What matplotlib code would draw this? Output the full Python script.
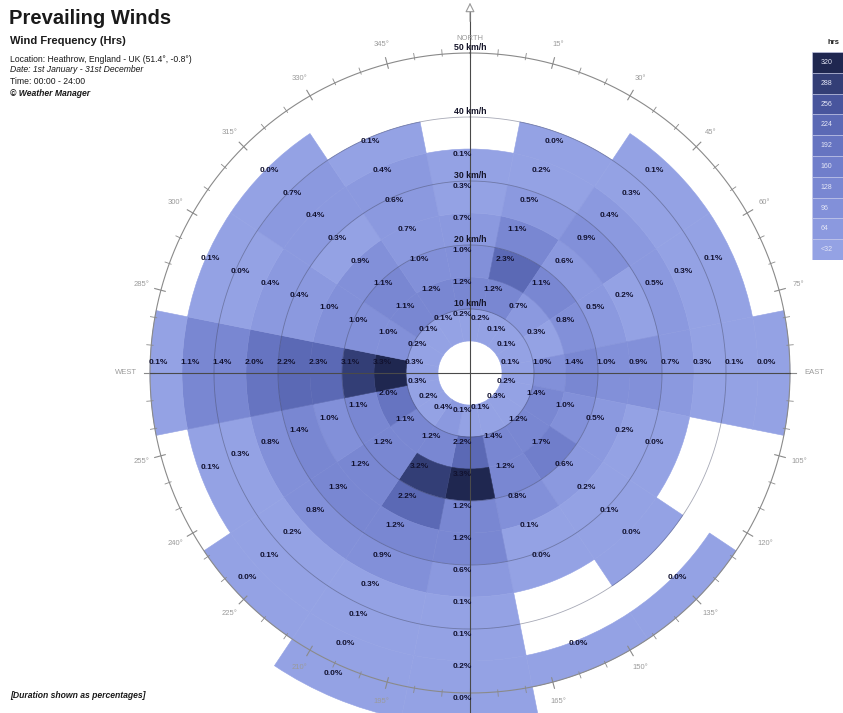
import numpy as np
import matplotlib
matplotlib.use("Agg")
import matplotlib.pyplot as plt

W_PX, H_PX = 843, 713
CX, CY = 470, 373          # pixel centre of the rose
PX_PER_KMH = 6.4
R_MAX = 60.0               # km/h at the edge of the polar axes

plt.rcParams["font.family"] = ["Liberation Sans", "DejaVu Sans"]

# speed bands: 5-10, 10-15, ... km/h (0-5 km/h is the empty centre)
band_start = 5
band_step = 5

directions = ["N", "NNE", "NE", "ENE", "E", "ESE", "SE", "SSE",
              "S", "SSW", "SW", "WSW", "W", "WNW", "NW", "NNW"]
bearings = [0.0, 22.5, 45.0, 67.5, 90.0, 112.5, 135.0, 157.5,
            180.0, 202.5, 225.0, 247.5, 270.0, 292.5, 315.0, 337.5]

# percentage of hours per speed band, None = no wind recorded in that band
pct_N = [0.2, 1.2, 1.0, 0.7, 0.3, 0.1]
pct_NNE = [0.2, 1.2, 2.3, 1.1, 0.5, 0.2, 0.0]
pct_NE = [0.1, 0.7, 1.1, 0.6, 0.9, 0.4, 0.3, 0.1]
pct_ENE = [0.1, 0.3, 0.8, 0.5, 0.2, 0.5, 0.3, 0.1]
pct_E = [0.1, 1.0, 1.4, 1.0, 0.9, 0.7, 0.3, 0.1, 0.0]
pct_ESE = [0.2, 1.4, 1.0, 0.5, 0.2, 0.0]
pct_SE = [0.3, 1.2, 1.7, 0.6, 0.2, 0.1, 0.0, None, 0.0]
pct_SSE = [0.1, 1.4, 1.2, 0.8, 0.1, 0.0, None, None, 0.0]
pct_S = [0.1, 2.2, 3.3, 1.2, 1.2, 0.6, 0.1, 0.1, 0.2, 0.0]
pct_SSW = [0.4, 1.2, 3.2, 2.2, 1.2, 0.9, 0.3, 0.1, 0.0, 0.0]
pct_SW = [0.2, 1.1, 1.2, 1.2, 1.3, 0.8, 0.2, 0.1, 0.0]
pct_WSW = [0.3, 2.0, 1.1, 1.0, 1.4, 0.8, 0.3, 0.1]
pct_W = [0.3, 3.3, 3.1, 2.3, 2.2, 2.0, 1.4, 1.1, 0.1]
pct_WNW = [0.2, 1.0, 1.0, 1.0, 0.4, 0.4, 0.0, 0.1]
pct_NW = [0.1, 1.1, 1.1, 0.9, 0.3, 0.4, 0.7, 0.0]
pct_NNW = [0.1, 1.2, 1.0, 0.7, 0.6, 0.4, 0.1]

rose = [pct_N, pct_NNE, pct_NE, pct_ENE, pct_E, pct_ESE, pct_SE, pct_SSE,
        pct_S, pct_SSW, pct_SW, pct_WSW, pct_W, pct_WNW, pct_NW, pct_NNW]

# legend (hours)
hrs_bounds = [0, 32, 64, 96, 128, 160, 192, 224, 256, 288, 320]
hrs_labels = ["<32", "64", "96", "128", "160", "192", "224", "256", "288", "320"]
hours_per_pct = 87.6   # 8760 hours in the year

bin_colors = ["#94a2e4", "#8b99df", "#8290d9", "#7987d2", "#707ecb",
              "#6674c1", "#5b69b5", "#48559d", "#333e76", "#1f2750"]

speed_rings = [10, 20, 30, 40]
compass_labels = {0: "NORTH", 90: "EAST", 270: "WEST"}


def color_for(pct):
    hrs = pct * hours_per_pct
    idx = np.searchsorted(hrs_bounds, hrs, side="right") - 1
    return bin_colors[int(np.clip(idx, 0, len(bin_colors) - 1))]


fig = plt.figure(figsize=(W_PX / 100, H_PX / 100), dpi=100)
fig.patch.set_facecolor("white")

r_px = R_MAX * PX_PER_KMH
ax = fig.add_axes([(CX - r_px) / W_PX, (H_PX - CY - r_px) / H_PX,
                   2 * r_px / W_PX, 2 * r_px / H_PX], projection="polar")
ax.set_theta_zero_location("N")
ax.set_theta_direction(-1)
ax.set_ylim(0, R_MAX)
ax.axis("off")

width = np.deg2rad(22.5)
for brg, values in zip(bearings, rose):
    th = np.deg2rad(brg)
    for k, v in enumerate(values):
        if v is None:
            continue
        bottom = band_start + k * band_step
        c = color_for(v)
        ax.bar(th, band_step, width=width, bottom=bottom, color=c,
               edgecolor=c, linewidth=0.4, zorder=2)

# speed rings
theta_full = np.linspace(0, 2 * np.pi, 721)
for s in speed_rings:
    ax.plot(theta_full, np.full_like(theta_full, s), color="#3a3f5c",
            lw=0.6, alpha=0.45, zorder=3)
ax.plot(theta_full, np.full_like(theta_full, 50), color="#8a8a8a", lw=0.8, zorder=3)

# crosshair
ax.plot([0, 0], [0, 57], color="#4a4a4a", lw=0.8, zorder=4)
ax.plot([np.pi, np.pi], [0, 60], color="#4a4a4a", lw=0.8, zorder=4)
ax.plot([np.pi / 2, np.pi / 2], [0, 50], color="#4a4a4a", lw=0.8, zorder=4)
ax.plot([1.5 * np.pi, 1.5 * np.pi], [0, 50], color="#4a4a4a", lw=0.8, zorder=4)

# compass ticks and labels
for deg in range(0, 360, 5):
    th = np.deg2rad(deg)
    if deg % 15 == 0:
        ax.plot([th, th], [49.3, 51.0], color="#8a8a8a", lw=0.8, zorder=3)
    else:
        ax.plot([th, th], [49.7, 50.7], color="#8a8a8a", lw=0.6, zorder=3)
for deg in range(0, 360, 15):
    th = np.deg2rad(deg)
    if deg == 180:
        continue
    if deg in compass_labels:
        rr = 52.3 if deg == 0 else 53.8
        ax.text(th, rr, compass_labels[deg], fontsize=5.5, color="#9a9a9a",
                ha="center", va="center", zorder=5)
    else:
        ax.text(th, 53.2, f"{deg}\u00b0", fontsize=5.5, color="#9a9a9a",
                ha="center", va="center", zorder=5)

# north arrow
ax.annotate("", xy=(0, 58.3), xytext=(0, 54.5),
            arrowprops=dict(arrowstyle="-|>", color="#9a9a9a", lw=0.8,
                            mutation_scale=14, fc="white"), zorder=5)

# speed ring labels
for s in speed_rings + [50]:
    ax.text(0, s + 0.8, f"{s} km/h", fontsize=6.3, fontweight="bold",
            color="#15152a", ha="center", va="center", zorder=6)

# percentage labels (drawn a little up and left of the cell centre)
for brg, values in zip(bearings, rose):
    th = np.deg2rad(brg)
    for k, v in enumerate(values):
        if v is None:
            continue
        rc = band_start + (k + 0.5) * band_step
        ax.annotate(f"{v:.1f}%", xy=(th, rc), xytext=(-8, 10),
                    textcoords="offset pixels", fontsize=6, fontweight="bold",
                    color="#121230", ha="center", va="center", zorder=6,
                    annotation_clip=False)

# legend
leg = fig.add_axes([812 / W_PX, 1 - 260 / H_PX, 40 / W_PX, 208 / H_PX])
leg.barh(np.arange(10), 1, height=1, left=0, color=bin_colors,
         edgecolor="#c8ccec", linewidth=0.4)
leg.set_xlim(0, 1)
leg.set_ylim(-0.5, 9.5)
leg.axis("off")
for i, lab in enumerate(hrs_labels):
    leg.text(0.22, i, lab, fontsize=5, color="#e4e6f6", ha="left", va="center")
fig.text(827 / W_PX, 1 - 42 / H_PX, "hrs", fontsize=5.5, fontweight="bold",
         color="#222222", ha="left", va="center")

# header texts
def ftext(x, y, s, **kw):
    fig.text(x / W_PX, 1 - y / H_PX, s, ha="left", va="center", color="#1a1a1a", **kw)

ftext(9, 19, "Prevailing Winds", fontsize=14.5, fontweight="bold")
ftext(10, 41, "Wind Frequency (Hrs)", fontsize=8, fontweight="bold")
ftext(10, 59, "Location: Heathrow, England - UK (51.4\u00b0, -0.8\u00b0)", fontsize=6.2)
ftext(10, 70, "Date: 1st January - 31st December", fontsize=6.2, style="italic")
ftext(10, 81, "Time: 00:00 - 24:00", fontsize=6.2)
ftext(10, 93, "\u00a9 Weather Manager", fontsize=6.2, style="italic", fontweight="bold")
ftext(10, 695, "[Duration shown as percentages]", fontsize=6.2, style="italic",
      fontweight="bold")

fig.savefig("out.png", dpi=100)
